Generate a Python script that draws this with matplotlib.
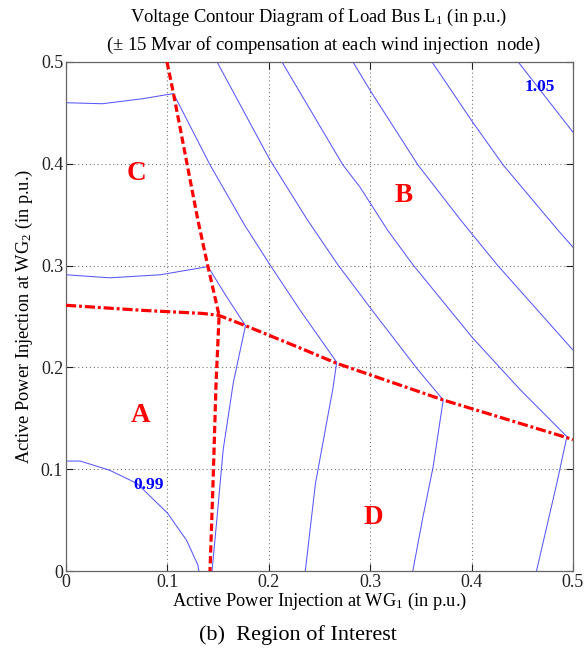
import matplotlib
matplotlib.use("Agg")
import matplotlib.pyplot as plt

plt.rcParams['font.family'] = ['Liberation Serif', 'DejaVu Serif']
plt.rcParams['mathtext.fontset'] = 'custom'
plt.rcParams['mathtext.rm'] = 'Liberation Serif'
plt.rcParams['mathtext.default'] = 'regular'

# ---- contour lines (x = P_WG1, y = P_WG2) ----
c099_x = [0.0, 0.014, 0.043, 0.070, 0.100, 0.119, 0.130, 0.131]
c099_y = [0.108, 0.108, 0.099, 0.086, 0.057, 0.030, 0.006, 0.0]

l2_x = [0.0, 0.043, 0.093, 0.140, 0.158, 0.177, 0.165, 0.155, 0.149, 0.144]
l2_y = [0.291, 0.288, 0.291, 0.299, 0.270, 0.241, 0.185, 0.119, 0.053, 0.0]

la_x = [0.0, 0.036, 0.076, 0.106, 0.142, 0.176, 0.201, 0.231, 0.267, 0.263, 0.258, 0.246, 0.236]
la_y = [0.460, 0.459, 0.464, 0.469, 0.399, 0.340, 0.301, 0.256, 0.205, 0.178, 0.151, 0.086, 0.0]

lb_x = [0.149, 0.201, 0.238, 0.268, 0.302, 0.346, 0.372, 0.362, 0.352, 0.342]
lb_y = [0.5, 0.404, 0.345, 0.301, 0.256, 0.199, 0.168, 0.102, 0.053, 0.0]

lc_x = [0.213, 0.273, 0.290, 0.317, 0.342, 0.401, 0.448, 0.494, 0.484, 0.474, 0.464]
lc_y = [0.5, 0.399, 0.377, 0.335, 0.301, 0.229, 0.178, 0.132, 0.086, 0.043, 0.0]

ld_x = [0.283, 0.300, 0.347, 0.389, 0.425, 0.5]
ld_y = [0.5, 0.472, 0.399, 0.345, 0.301, 0.217]

le_x = [0.361, 0.401, 0.431, 0.485, 0.5]
le_y = [0.5, 0.441, 0.399, 0.335, 0.318]

lf_x = [0.446, 0.5]
lf_y = [0.5, 0.431]

contours = [(c099_x, c099_y), (l2_x, l2_y), (la_x, la_y), (lb_x, lb_y),
            (lc_x, lc_y), (ld_x, ld_y), (le_x, le_y), (lf_x, lf_y)]

# ---- region boundaries ----
dash_x = [0.0996, 0.106, 0.130, 0.140, 0.151, 0.148, 0.145, 0.142]
dash_y = [0.5, 0.469, 0.345, 0.299, 0.251, 0.185, 0.086, 0.0]

dd_x = [0.0, 0.076, 0.135, 0.151, 0.177, 0.231, 0.267, 0.372, 0.494, 0.5]
dd_y = [0.261, 0.256, 0.253, 0.251, 0.241, 0.219, 0.204, 0.168, 0.131, 0.129]

regions = ['A', 'B', 'C', 'D']
region_x = [0.074, 0.333, 0.069, 0.303]
region_y = [0.153, 0.369, 0.390, 0.053]

clabels = ['0.99', '1.05']
clabel_x = [0.081, 0.467]
clabel_y = [0.084, 0.475]

ticks = [0, 0.1, 0.2, 0.3, 0.4, 0.5]
tick_labels = ['0', '0.1', '0.2', '0.3', '0.4', '0.5']

fig = plt.figure(figsize=(5.85, 6.61), dpi=100)
ax = fig.add_axes([66/585, 1 - 571/661, (573-66)/585, (571-62)/661])

for cx, cy in contours:
    ax.plot(cx, cy, color='#3a3aff', lw=0.75, alpha=0.85, zorder=2)

ax.plot(dash_x, dash_y, color='red', lw=2.3, ls=(0, (2.3, 1.1)), zorder=3)
ax.plot(dd_x, dd_y, color='red', lw=2.3, ls=(0, (3.2, 0.9, 0.9, 0.9)), zorder=3)

for t, x, y in zip(regions, region_x, region_y):
    ax.text(x, y, t, color='red', fontsize=19.5, fontweight='bold', ha='center', va='center')
for t, x, y in zip(clabels, clabel_x, clabel_y):
    ax.text(x, y, t, color='blue', fontsize=12.5, fontweight='bold', ha='center', va='center')

ax.set_xlim(0, 0.5)
ax.set_ylim(0, 0.5)
ax.set_xticks(ticks)
ax.set_yticks(ticks)
ax.set_xticklabels(tick_labels)
ax.set_yticklabels(tick_labels)
ax.tick_params(direction='in', top=True, right=True, length=5, width=0.8,
               labelsize=13, colors='#222222', pad=2)
ax.grid(True, color='#777777', ls=(0, (1, 2.5)), lw=0.8)
for s in ax.spines.values():
    s.set_color('#666666')
    s.set_linewidth(0.9)

ax.set_xlabel('Active Power Injection at WG$_1$ (in p.u.)', fontsize=13.2, labelpad=0)
ax.set_ylabel('Active Power Injection at WG$_2$ (in p.u.)', fontsize=13.2, labelpad=4)

fig.text(319/585, 1 - 17/661, 'Voltage Contour Diagram of Load Bus L$_1$ (in p.u.)',
         ha='center', va='center', fontsize=13.3)
fig.text(323/585, 1 - 45/661, '($\\pm$ 15 Mvar of compensation at each wind injection  node)',
         ha='center', va='center', fontsize=13.4)
fig.text(298/585, 1 - 635/661, '(b)  Region of Interest', ha='center', va='center', fontsize=16)

fig.savefig('out.png', dpi=100)
